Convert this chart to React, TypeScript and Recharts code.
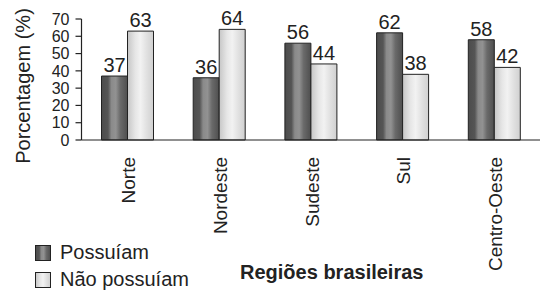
import React from 'react';
import { BarChart, Bar, XAxis, YAxis, LabelList, Legend, Label } from 'recharts';

const regions = ['Norte', 'Nordeste', 'Sudeste', 'Sul', 'Centro-Oeste'];
const possuiam = [37, 36, 56, 62, 58];
const naoPossuiam = [63, 64, 44, 38, 42];
const yTicks = [0, 10, 20, 30, 40, 50, 60, 70];
const seriesNames = ['Possuíam', 'Não possuíam'];
const yTitle = 'Porcentagem (%)';
const xTitle = 'Regiões brasileiras';

const data = regions.map((r, i) => ({ region: r, possuiam: possuiam[i], nao: naoPossuiam[i] }));

const FONT = '"Liberation Sans", Arial, Helvetica, sans-serif';
const INK = '#222';

const DarkStops = () => (
  <>
    <stop offset="0" stopColor="#4c4c4c" />
    <stop offset="0.25" stopColor="#555555" />
    <stop offset="0.38" stopColor="#8a8a8a" />
    <stop offset="0.55" stopColor="#929292" />
    <stop offset="0.72" stopColor="#6a6a6a" />
    <stop offset="1" stopColor="#4e4e4e" />
  </>
);
const LightStops = () => (
  <>
    <stop offset="0" stopColor="#c6c6c6" />
    <stop offset="0.3" stopColor="#e6e6e6" />
    <stop offset="0.5" stopColor="#f2f2f2" />
    <stop offset="0.75" stopColor="#e0e0e0" />
    <stop offset="1" stopColor="#d0d0d0" />
  </>
);

const XTick = (props: any) => {
  const { x, y, payload } = props;
  const tx = x + 1.5;
  const ty = y + 17;
  return (
    <text
      x={tx}
      y={ty}
      transform={`rotate(-90, ${tx}, ${ty})`}
      textAnchor="end"
      dominantBaseline="central"
      fontSize={19}
      fill={INK}
      fontFamily={FONT}
    >
      {payload.value}
    </text>
  );
};

const renderLegend = () => (
  <div style={{ fontFamily: FONT, fontSize: 20, color: INK }}>
    {seriesNames.map((name, i) => (
      <div key={name} style={{ display: 'flex', alignItems: 'center', height: 27 }}>
        <svg width={16} height={16} style={{ marginRight: 9 }}>
          <defs>
            <linearGradient id={`lg${i}`} x1="0" y1="0" x2="1" y2="0">
              {i === 0 ? <DarkStops /> : <LightStops />}
            </linearGradient>
          </defs>
          <rect x={0.5} y={0.5} width={15} height={15} fill={`url(#lg${i})`} stroke={INK} strokeWidth={1} />
        </svg>
        <span>{name}</span>
      </div>
    ))}
  </div>
);

export default function App() {
  return (
    <div style={{ position: 'absolute', left: 0, top: 0, width: 540, height: 293, fontFamily: FONT, background: '#fff' }}>
      <BarChart
        width={540}
        height={293}
        data={data}
        margin={{ top: 19, right: 0, bottom: 0, left: 0 }}
        barGap={0}
        barSize={26}
      >
        <defs>
          <linearGradient id="darkGrad" x1="0" y1="0" x2="1" y2="0">
            <DarkStops />
          </linearGradient>
          <linearGradient id="lightGrad" x1="0" y1="0" x2="1" y2="0">
            <LightStops />
          </linearGradient>
        </defs>
        <XAxis
          dataKey="region"
          height={153}
          tickLine={false}
          tickSize={0}
          tickMargin={0}
          interval={0}
          axisLine={{ stroke: INK, strokeWidth: 1.2 }}
          tick={<XTick />}
        >
          <Label
            content={(p: any) => {
              const vb = p.viewBox || { x: 81.5, y: 140, width: 458.5, height: 153 };
              return (
                <text
                  x={vb.x + vb.width / 2 + 21}
                  y={vb.y + vb.height - 14}
                  textAnchor="middle"
                  fontSize={20}
                  fontWeight="bold"
                  fill={INK}
                  fontFamily={FONT}
                >
                  {xTitle}
                </text>
              );
            }}
          />
        </XAxis>
        <YAxis
          width={81.5}
          domain={[0, 70]}
          ticks={yTicks}
          interval={0}
          tickSize={6}
          tickMargin={6}
          tick={{ fontSize: 16, fill: INK, fontFamily: FONT }}
          tickLine={{ stroke: INK, strokeWidth: 1.2 }}
          axisLine={{ stroke: INK, strokeWidth: 1.2 }}
        >
          <Label
            content={(p: any) => {
              const vb = p.viewBox || { x: 0, y: 19, width: 81.5, height: 121 };
              const cx = 23;
              const cy = vb.y + vb.height / 2 + 6.5;
              return (
                <text
                  x={cx}
                  y={cy}
                  transform={`rotate(-90, ${cx}, ${cy})`}
                  textAnchor="middle"
                  dominantBaseline="central"
                  fontSize={20}
                  fill={INK}
                  fontFamily={FONT}
                >
                  {yTitle}
                </text>
              );
            }}
          />
        </YAxis>
        <Legend
          layout="vertical"
          align="center"
          verticalAlign="middle"
          content={renderLegend}
          wrapperStyle={{ left: 35, top: 239, width: 220, height: 56 }}
        />
        <Bar dataKey="possuiam" name={seriesNames[0]} fill="url(#darkGrad)" stroke={INK} strokeWidth={1} isAnimationActive={false}>
          <LabelList dataKey="possuiam" position="top" offset={4} fontSize={20} fill={INK} fontFamily={FONT} />
        </Bar>
        <Bar dataKey="nao" name={seriesNames[1]} fill="url(#lightGrad)" stroke={INK} strokeWidth={1} isAnimationActive={false}>
          <LabelList dataKey="nao" position="top" offset={4} fontSize={20} fill={INK} fontFamily={FONT} />
        </Bar>
      </BarChart>
    </div>
  );
}
